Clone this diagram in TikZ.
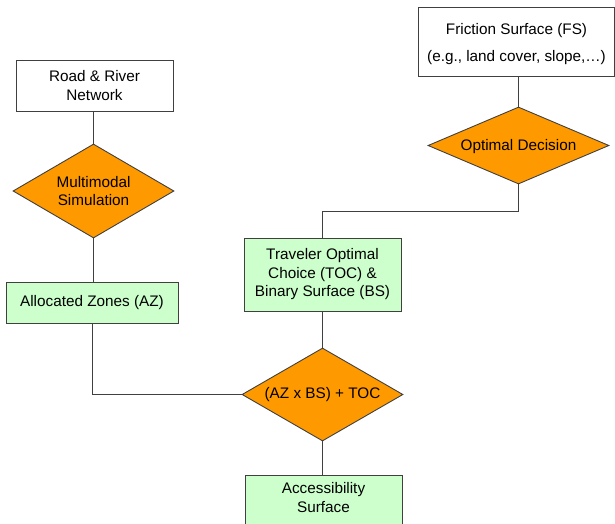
\documentclass[tikz,border=0pt]{standalone}
\usepackage{fontspec}
\setmainfont{Liberation Sans}
\usetikzlibrary{shapes.geometric}
\definecolor{boxgreen}{HTML}{CCFFCC}
\definecolor{decorange}{HTML}{FF9900}
\definecolor{edgegray}{HTML}{404040}
\tikzset{
  base/.style={draw=edgegray, line width=0.9pt, font=\fontsize{15.3}{18.5}\selectfont, align=center, inner sep=0pt},
  whitebox/.style={base, rectangle, fill=white},
  greenbox/.style={base, rectangle, fill=boxgreen},
  decision/.style={base, diamond, fill=decorange, aspect=1.7},
  plaintext/.style={font=\fontsize{15.3}{18.5}\selectfont, align=center, inner sep=0pt},
  conn/.style={draw=edgegray, line width=0.9pt}
}
\begin{document}
\begin{tikzpicture}[x=1pt,y=-1pt]
\useasboundingbox (0,0) rectangle (615,524);
\clip (0,0) rectangle (615,524);
\fill[white] (0,0) rectangle (615,524);
% nodes
\node[whitebox, minimum width=157pt, minimum height=51pt] (rr) at (94.5,85.5) {Road \& River\\Network};
\node[decision, minimum width=161pt, minimum height=94pt] (ms) at (93.5,191) {Multimodal\\Simulation};
\node[greenbox, minimum width=172pt, minimum height=41pt] (az) at (92,302.5) {Allocated Zones (AZ)};
\node[whitebox, minimum width=196pt, minimum height=69pt] (fs) at (516.5,41.5) {};
\node[plaintext] (fstext) at ([yshift=-2.5pt]fs.center) {Friction Surface (FS)\\[9pt](e.g., land cover, slope,\ldots)};
\node[decision, minimum width=181pt, minimum height=77pt] (od) at (518.5,145.5) {};
\node[plaintext] (odtext) at ([yshift=-1.5pt]od.center) {Optimal Decision};
\node[greenbox, minimum width=157pt, minimum height=73pt] (toc) at (322.5,274.5) {Traveler Optimal\\Choice (TOC) \&\\Binary Surface (BS)};
\node[decision, minimum width=161pt, minimum height=93pt] (comb) at (322.5,394.5) {(AZ x BS) + TOC};
\node[greenbox, minimum width=157pt, minimum height=90pt, anchor=north] (acc) at (323.5,475) {};
\node[plaintext] (acctext) at ([yshift=-22.5pt]acc.north) {Accessibility\\Surface};
% connectors
\draw[conn] (ms.north |- rr.south) -- (ms.north);
\draw[conn] (ms.south) -- (ms.south |- az.north);
\draw[conn] (od.north |- fs.south) -- (od.north);
\draw[conn] (od.south) -- ++(0,27) -| (toc.north);
\draw[conn] (toc.south) -- (comb.north);
\draw[conn] (az.south) |- (comb.west);
\draw[conn] (comb.south) -- (comb.south |- acc.north);
\end{tikzpicture}
\end{document}
